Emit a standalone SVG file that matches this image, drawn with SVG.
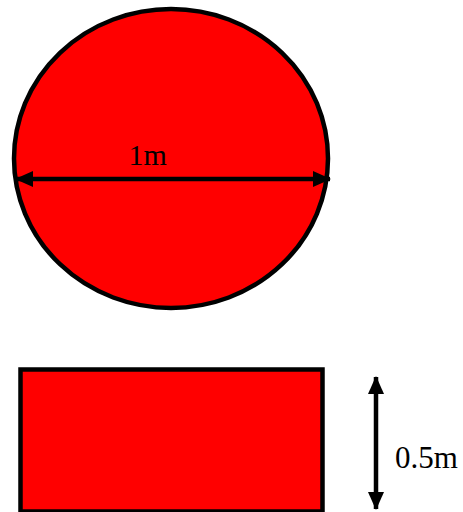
<svg xmlns="http://www.w3.org/2000/svg" width="463" height="512" viewBox="0 0 463 512">
<style>
.shape{fill:#ff0000;stroke:#000;stroke-width:4.5}
.dim{stroke:#000;stroke-width:4.5;fill:none}
.lbl{font-family:"Liberation Serif","Times New Roman",serif;font-size:30px;fill:#000}
</style>
<defs>
<marker id="ah" markerUnits="userSpaceOnUse" markerWidth="18" markerHeight="18" refX="17" refY="8" orient="auto-start-reverse" viewBox="0 0 18 16">
<path d="M0,0 L18,8 L0,16 Z" fill="#000"/>
</marker>
</defs>
<g id="circle">
<ellipse class="shape" cx="171" cy="158.5" rx="157" ry="149.5"/>
</g>
<g id="rectangle">
<rect class="shape" x="20.5" y="369.5" width="302" height="142"/>
</g>
<g id="connectors">
<line class="dim" x1="16" y1="179" x2="330" y2="179" marker-start="url(#ah)" marker-end="url(#ah)"/>
<line class="dim" x1="376" y1="377" x2="376" y2="509" marker-start="url(#ah)" marker-end="url(#ah)"/>
</g>
<text class="lbl" x="128.5" y="165">1m</text>
<text class="lbl" x="395" y="468" style="font-size:31px">0.5m</text>
</svg>
